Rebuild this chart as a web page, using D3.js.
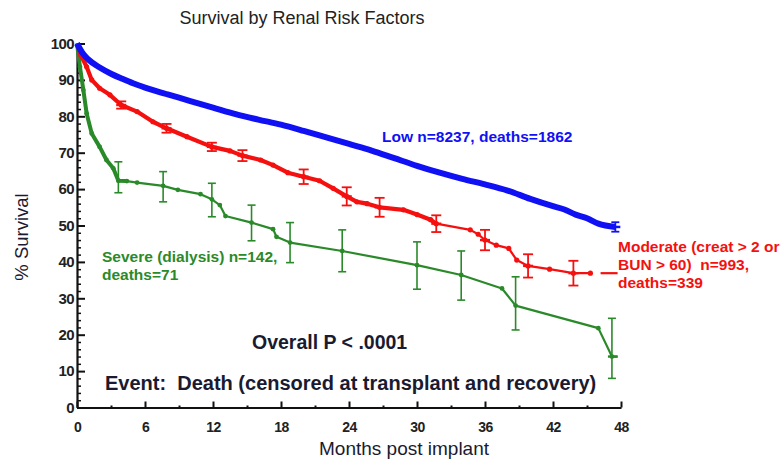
<!DOCTYPE html>
<html>
<head>
<meta charset="utf-8">
<script src="https://cdn.jsdelivr.net/npm/d3@7/dist/d3.min.js"></script>
<style>
  html, body { margin: 0; padding: 0; background: #fff; }
  svg { display: block; font-family: "Liberation Sans", Arial, Helvetica, sans-serif; }
</style>
</head>
<body>
<svg id="chart" width="783" height="459"></svg>
<script>
// Kaplan-Meier survival estimates (months post implant, % survival)
const lowMonths = [0, 0.5, 1, 2, 3, 4, 5, 6, 7, 8, 10, 12, 14, 16, 18, 20, 22, 24, 26, 28, 30, 32, 34, 36, 38, 40, 42, 43, 44, 45, 46, 47.5];
const lowSurv   = [100, 97.3, 95.6, 93.4, 91.7, 90.3, 89, 87.9, 86.9, 86, 84.2, 82.4, 80.6, 79.1, 77.7, 76, 74.2, 72.4, 70.6, 68.5, 66.4, 64.5, 62.8, 61.3, 59.6, 57.3, 55.3, 54.4, 53, 52, 50.5, 49.6];
const lowBarMonths = [47.5];
const lowBarHalf   = [1.3];

const modMonths = [0, 0.3, 0.85, 1.3, 2, 2.9, 3.9, 5.3, 6.7, 7.9, 9.7, 11.9, 13.5, 14.6, 16.2, 17.3, 18.6, 20, 21.4, 22.6, 23.8, 24.7, 25.6, 26.7, 28.8, 30, 31.2, 31.7, 34.7, 35.4, 36, 37, 38.1, 38.8, 39.8, 41.7, 43.8, 45.3];
const modSurv   = [100, 97, 93.6, 90, 87.7, 85.9, 83.1, 81.3, 78.5, 76.7, 74.4, 71.6, 70.5, 69.2, 68, 66.6, 64.5, 63.4, 62.3, 60.2, 58, 56.5, 56, 55, 54.3, 53, 51.6, 50.5, 48.8, 47.6, 46, 44.6, 43.7, 40.5, 38.9, 38, 36.9, 36.9];
const modTailMonths = [46.2, 47.7];
const modTailSurv   = [36.9, 36.9];
const modBarMonths = [3.9, 7.9, 11.9, 14.6, 20, 23.8, 26.7, 31.7, 36, 39.8, 43.8];
const modBarHalf   = [1.0, 1.2, 1.15, 1.5, 2.0, 2.5, 2.6, 2.3, 2.8, 3.2, 3.4];

const sevMonths = [0, 0.26, 0.56, 0.85, 1.3, 2, 2.6, 3.2, 3.65, 4.4, 5.3, 7.6, 8.9, 10.9, 11.9, 12.6, 13.1, 15.4, 17.3, 17.6, 18.8, 23.4, 30, 33.9, 37.5, 38.7, 46, 47.2, 47.7];
const sevSurv   = [100, 93.6, 87.2, 80.8, 75.3, 71.6, 68, 65.7, 62.3, 62.2, 61.8, 60.9, 59.8, 58.6, 57.2, 55.6, 52.6, 50.8, 49, 46.9, 45.3, 43, 39.1, 36.4, 32.7, 28, 21.8, 14, 14];
const sevBarMonths = [3.65, 7.6, 11.9, 15.4, 18.8, 23.4, 30, 33.9, 38.7, 47.2];
const sevBarLow    = [59, 56.5, 52.4, 45.8, 39.8, 37.3, 32.5, 29.5, 21.3, 8];
const sevBarHigh   = [67.5, 64.8, 61.6, 55.6, 50.8, 48.8, 45.5, 43, 35.9, 24.5];

const yTicks = [0, 10, 20, 30, 40, 50, 60, 70, 80, 90, 100];
const xTicks = [0, 6, 12, 18, 24, 30, 36, 42, 48];

const colLow = "#1010f5", colMod = "#f51010", colSev = "#2a8a2a", ink = "#1a1a30";

const svg = d3.select("#chart");
svg.append("rect").attr("width", 783).attr("height", 459).attr("fill", "#fff");

const x = d3.scaleLinear().domain([0, 48]).range([77, 621]);
const y = d3.scaleLinear().domain([0, 100]).range([407.5, 43.5]);

const zip = (a, b) => a.map((m, i) => [m, b[i]]);
const line = d3.line().x(d => x(d[0])).y(d => y(d[1]));

// Axes: major ticks point inward, minor ticks in between
const yMinor = d3.range(0, 101, 2).filter(v => v % 10 !== 0);
const xMinor = d3.range(3, 48, 6);

svg.append("g").attr("transform", "translate(77,0)")
  .call(d3.axisLeft(y).tickValues(yMinor).tickSize(-4).tickFormat(""))
  .call(g => g.select(".domain").remove())
  .call(g => g.selectAll("line").attr("stroke", "#111").attr("stroke-width", 1.5));

svg.append("g").attr("transform", "translate(0,407.5)")
  .call(d3.axisBottom(x).tickValues(xMinor).tickSize(-2).tickFormat(""))
  .call(g => g.select(".domain").remove())
  .call(g => g.selectAll("line").attr("stroke", "#111").attr("stroke-width", 2));

const yAxis = svg.append("g").attr("transform", "translate(77,0)")
  .call(d3.axisLeft(y).tickValues(yTicks).tickSize(-8).tickPadding(3).tickSizeOuter(0));
yAxis.select(".domain").attr("stroke", "#111").attr("stroke-width", 2.2);
yAxis.selectAll("line").attr("stroke", "#111").attr("stroke-width", 2);
yAxis.selectAll("text").attr("font-size", 15).attr("font-weight", "bold")
  .attr("fill", "#222").attr("letter-spacing", "-0.6px").style("font-family", "'Liberation Sans', Arial, sans-serif");

const xAxis = svg.append("g").attr("transform", "translate(0,407.5)")
  .call(d3.axisBottom(x).tickValues(xTicks).tickSize(-6).tickPadding(15).tickSizeOuter(0));
xAxis.select(".domain").attr("stroke", "#111").attr("stroke-width", 2.2);
xAxis.selectAll("line").attr("stroke", "#111").attr("stroke-width", 2);
xAxis.selectAll("text").attr("font-size", 14).attr("font-weight", "bold")
  .attr("fill", "#222").attr("letter-spacing", "-0.6px").style("font-family", "'Liberation Sans', Arial, sans-serif");

// Error bars with caps
function errorBars(months, lo, hi, color, cap, width) {
  const g = svg.append("g").attr("stroke", color).attr("stroke-width", width).attr("fill", "none");
  months.forEach((m, i) => {
    const cx = x(m), y1 = y(lo[i]), y2 = y(hi[i]);
    g.append("line").attr("x1", cx).attr("x2", cx).attr("y1", y1).attr("y2", y2);
    g.append("line").attr("x1", cx - cap).attr("x2", cx + cap).attr("y1", y1).attr("y2", y1);
    g.append("line").attr("x1", cx - cap).attr("x2", cx + cap).attr("y1", y2).attr("y2", y2);
  });
}

// Severe (dialysis)
const sevPts = zip(sevMonths, sevSurv);
svg.append("path").datum(sevPts).attr("d", line)
  .attr("fill", "none").attr("stroke", colSev).attr("stroke-width", 2.2).attr("stroke-linejoin", "round");
svg.append("path").datum(sevPts.filter(d => d[0] <= 4.4)).attr("d", line)
  .attr("fill", "none").attr("stroke", colSev).attr("stroke-width", 4).attr("stroke-linejoin", "round");
svg.append("g").selectAll("circle").data(sevPts.slice(1, -1)).join("circle")
  .attr("cx", d => x(d[0])).attr("cy", d => y(d[1])).attr("r", 2.4).attr("fill", colSev);
errorBars(sevBarMonths, sevBarLow, sevBarHigh, colSev, 4, 1.6);
svg.append("line").attr("x1", x(47.2) - 4).attr("x2", x(47.7)).attr("y1", y(14)).attr("y2", y(14))
  .attr("stroke", colSev).attr("stroke-width", 2.4);

// Moderate
const modPts = zip(modMonths, modSurv);
svg.append("path").datum(modPts).attr("d", line)
  .attr("fill", "none").attr("stroke", colMod).attr("stroke-width", 2.2).attr("stroke-linejoin", "round");
svg.append("path").datum(modPts.filter(d => d[0] <= 31.7)).attr("d", line)
  .attr("fill", "none").attr("stroke", colMod).attr("stroke-width", 4.2).attr("stroke-linejoin", "round");
svg.append("g").selectAll("circle").data(modPts.slice(1)).join("circle")
  .attr("cx", d => x(d[0])).attr("cy", d => y(d[1])).attr("r", 2.6).attr("fill", colMod);
errorBars(modBarMonths, modBarMonths.map((m, i) => modSurv[modMonths.indexOf(m)] - modBarHalf[i]),
  modBarMonths.map((m, i) => modSurv[modMonths.indexOf(m)] + modBarHalf[i]), colMod, 5, 1.8);
modBarMonths.forEach(m => {
  const v = modSurv[modMonths.indexOf(m)];
  svg.append("line").attr("x1", x(m) - 5).attr("x2", x(m) + 5).attr("y1", y(v)).attr("y2", y(v))
    .attr("stroke", colMod).attr("stroke-width", 2.4);
});
svg.append("path").datum(zip(modTailMonths, modTailSurv)).attr("d", line)
  .attr("fill", "none").attr("stroke", colMod).attr("stroke-width", 2.2);

// Low
const lowPts = zip(lowMonths, lowSurv);
svg.append("path").datum(lowPts).attr("d", line.curve(d3.curveMonotoneX))
  .attr("fill", "none").attr("stroke", colLow).attr("stroke-width", 6).attr("stroke-linejoin", "round");
line.curve(d3.curveLinear);
errorBars(lowBarMonths, lowBarMonths.map((m, i) => lowSurv[lowMonths.indexOf(m)] - lowBarHalf[i]),
  lowBarMonths.map((m, i) => lowSurv[lowMonths.indexOf(m)] + lowBarHalf[i]), colLow, 4, 1.8);
svg.append("line").attr("x1", x(47.5) - 5).attr("x2", x(47.5) + 5)
  .attr("y1", y(49.6)).attr("y2", y(49.6)).attr("stroke", colLow).attr("stroke-width", 2.5);

// Text
svg.append("text").attr("x", 302).attr("y", 24).attr("text-anchor", "middle")
  .attr("font-size", 18).attr("fill", "#222").text("Survival by Renal Risk Factors");

svg.append("text").attr("transform", "translate(28,237) rotate(-90)").attr("text-anchor", "middle")
  .attr("font-size", 18.5).attr("fill", ink).text("% Survival");

svg.append("text").attr("x", 404).attr("y", 455).attr("text-anchor", "middle")
  .attr("font-size", 19).attr("fill", ink).text("Months post implant");

svg.append("text").attr("x", 382).attr("y", 142).attr("font-size", 15.5).attr("font-weight", "bold")
  .attr("fill", colLow).text("Low n=8237, deaths=1862");

const modLab = svg.append("text").attr("font-size", 15.5).attr("font-weight", "bold").attr("fill", colMod);
["Moderate (creat > 2 or", "BUN > 60)  n=993,", "deaths=339"].forEach((t, i) =>
  modLab.append("tspan").attr("x", 618).attr("y", 252 + i * 18).attr("xml:space", "preserve").text(t));

const sevLab = svg.append("text").attr("font-size", 15.5).attr("font-weight", "bold").attr("fill", colSev);
["Severe (dialysis) n=142,", "deaths=71"].forEach((t, i) =>
  sevLab.append("tspan").attr("x", 102).attr("y", 262 + i * 17.5).text(t));

svg.append("text").attr("x", 252).attr("y", 349).attr("font-size", 19.5).attr("font-weight", "bold")
  .attr("fill", ink).text("Overall P < .0001");

svg.append("text").attr("x", 105).attr("y", 390).attr("font-size", 20).attr("font-weight", "bold")
  .attr("fill", ink).attr("xml:space", "preserve").text("Event:  Death (censored at transplant and recovery)");
</script>
</body>
</html>
